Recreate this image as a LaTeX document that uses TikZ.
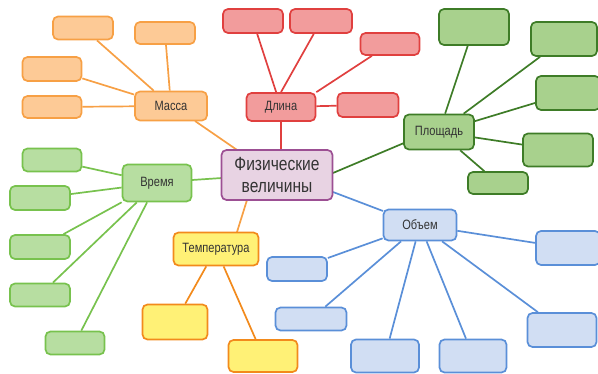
\documentclass[tikz,border=0pt]{standalone}
\usepackage{fontspec}
\setmainfont[FakeStretch=0.82]{Liberation Sans}
\definecolor{cenfill}{HTML}{E8D3E3}
\definecolor{cenline}{HTML}{9C4F93}
\definecolor{redfill}{HTML}{F29C9C}
\definecolor{redline}{HTML}{E0403F}
\definecolor{orfill}{HTML}{FDCA96}
\definecolor{orline}{HTML}{F7A045}
\definecolor{lgfill}{HTML}{B7DEA1}
\definecolor{lgline}{HTML}{78C24E}
\definecolor{yefill}{HTML}{FFF176}
\definecolor{yeline}{HTML}{F28A1C}
\definecolor{dgfill}{HTML}{A8D18D}
\definecolor{dgline}{HTML}{3E7C27}
\definecolor{blfill}{HTML}{D1DEF3}
\definecolor{blline}{HTML}{5A8FD8}
\tikzset{
  box/.style = {draw, rounded corners=5pt, line width=1.7pt, inner sep=0pt,
    font=\fontsize{13.5}{15}\selectfont, align=center, text=black!80},
  wh/.style 2 args = {minimum width=#1pt, minimum height=#2pt},
  cen/.style = {box, draw=cenline, fill=cenfill, font=\fontsize{19}{22}\selectfont},
  dl/.style = {box, draw=redline, fill=redfill},
  ma/.style = {box, draw=orline, fill=orfill},
  vr/.style = {box, draw=lgline, fill=lgfill},
  te/.style = {box, draw=yeline, fill=yefill},
  pl/.style = {box, draw=dgline, fill=dgfill},
  ob/.style = {box, draw=blline, fill=blfill},
  link/.style = {line width=1.7pt}
}
\begin{document}
\begin{tikzpicture}[x=1pt, y=-1pt]
\useasboundingbox (0,0) rectangle (598,374);
% lines first
\begin{scope}[link]
\draw[redline] (281,150) -- (281,121);
\draw[orline] (240,152) -- (195,121);
\draw[lgline] (222,178) -- (192,180);
\draw[orline] (247,200) -- (237,232);
\draw[dgline] (333,173) -- (404,143);
\draw[blline] (333,192) -- (383,211);
\end{scope}
% center
\node[cen, wh={111}{50}] (fv) at (277,175) {Физические\\величины};
% Длина
\node[dl, wh={69}{28}] (dlina) at (281,107) {Длина};
\node[dl, wh={60}{24}] (dl1) at (253,21) {};
\node[dl, wh={62}{24}] (dl2) at (321,21) {};
\node[dl, wh={59}{22}] (dl3) at (390,44) {};
\node[dl, wh={61}{24}] (dl4) at (368,105) {};
% Масса
\node[ma, wh={72}{29}] (massa) at (171,106) {Масса};
\node[ma, wh={60}{23}] (ma1) at (83,28) {};
\node[ma, wh={60}{22}] (ma2) at (165,33) {};
\node[ma, wh={59}{24}] (ma3) at (52,69) {};
\node[ma, wh={59}{22}] (ma4) at (52,107) {};
% Время
\node[vr, wh={69}{37}] (vremya) at (157,183) {Время};
\node[vr, wh={59}{23}] (vr1) at (52,160) {};
\node[vr, wh={60}{24}] (vr2) at (40,198) {};
\node[vr, wh={60}{24}] (vr3) at (40,247) {};
\node[vr, wh={60}{23}] (vr4) at (40,295) {};
\node[vr, wh={59}{23}] (vr5) at (75,343) {};
% Температура
\node[te, wh={85}{33}] (temp) at (216,249) {Температура};
\node[te, wh={65}{35}] (te1) at (175,322) {};
\node[te, wh={69}{32}] (te2) at (263,356) {};
% Площадь
\node[pl, wh={70}{35}] (plosh) at (439,132) {Площадь};
\node[pl, wh={70}{36}] (pl1) at (474,27) {};
\node[pl, wh={66}{34}] (pl2) at (564,39) {};
\node[pl, wh={64}{34}] (pl3) at (568,93) {};
\node[pl, wh={70}{33}] (pl4) at (558,150) {};
\node[pl, wh={60}{22}] (pl5) at (498,183) {};
% Объем
\node[ob, wh={73}{31}] (obem) at (420,225) {Объем};
\node[ob, wh={60}{24}] (ob1) at (297,269) {};
\node[ob, wh={71}{23}] (ob2) at (311,319) {};
\node[ob, wh={68}{33}] (ob3) at (385,356) {};
\node[ob, wh={67}{33}] (ob4) at (473,356) {};
\node[ob, wh={69}{34}] (ob5) at (562,330) {};
\node[ob, wh={64}{34}] (ob6) at (568,248) {};
% branches
\begin{scope}[link]
\draw[redline] (dlina) -- (dl1);
\draw[redline] (dlina.north) -- (dl2);
\draw[redline] (dlina.north east) -- (dl3);
\draw[redline] (dlina) -- (dl4);
\foreach \k in {1,...,4} \draw[orline] (massa) -- (ma\k);
\foreach \k in {1,...,5} \draw[lgline] (vremya) -- (vr\k);
\foreach \k in {1,2} \draw[yeline] (temp) -- (te\k);
\foreach \k in {1,...,5} \draw[dgline] (plosh) -- (pl\k);
\foreach \k in {1,...,6} \draw[blline] (obem) -- (ob\k);
\end{scope}
\end{tikzpicture}
\end{document}
